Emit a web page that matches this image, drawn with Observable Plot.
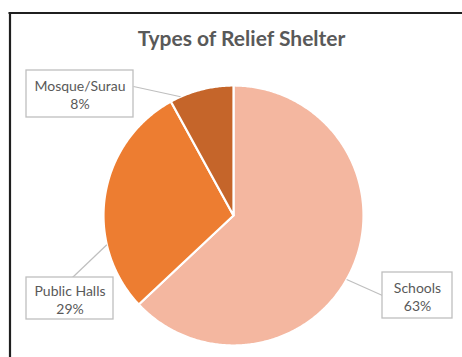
<!DOCTYPE html>
<html>
<head>
<meta charset="utf-8">
<script src="https://cdn.jsdelivr.net/npm/d3@7"></script>
<script src="https://cdn.jsdelivr.net/npm/@observablehq/plot@0.6"></script>
<style>
  html, body { margin: 0; padding: 0; background: #fff; }
  #chart svg { display: block; }
</style>
</head>
<body>
<div id="chart"></div>
<script>
// ---- data ----
const title = "Types of Relief Shelter";
const categories = ["Schools", "Public Halls", "Mosque/Surau"];
const values = [63, 29, 8];
const colors = ["#F4B7A0", "#ED7D31", "#C5652A"];

// ---- layout (pixels) ----
const W = 462, H = 357;
const cx = 233, cy = 215, R = 130;
const labelLayout = {
  "Schools":      {box: [382, 272, 452, 318], text: [417, 288], from: [382, 295], angle: 119.5},
  "Public Halls": {box: [26, 277, 113, 319], text: [69.5, 291], from: [72, 277], angle: 257},
  "Mosque/Surau": {box: [26, 70, 133, 117], text: [79.5, 86], from: [133, 86], angle: 336}
};

const total = d3.sum(values);
const table = categories.map((name, i) => ({name, value: values[i]}));
const arcs = d3.pie().sort(null).value(d => d.value)(table);

// polygon points per slice
const pts = [];
for (const a of arcs) {
  const n = Math.max(2, Math.ceil((a.endAngle - a.startAngle) / 0.01));
  pts.push({name: a.data.name, x: cx, y: cy});
  for (let k = 0; k <= n; k++) {
    const t = a.startAngle + (a.endAngle - a.startAngle) * k / n;
    pts.push({name: a.data.name, x: cx + R * Math.sin(t), y: cy - R * Math.cos(t)});
  }
  pts.push({name: a.data.name, x: cx, y: cy});
}

const labels = table.map(d => {
  const L = labelLayout[d.name];
  const ang = L.angle * Math.PI / 180;
  return {
    name: d.name,
    pct: Math.round(d.value / total * 100) + "%",
    x1: L.box[0], y1: L.box[1], x2: L.box[2], y2: L.box[3],
    tx: L.text[0], ty: L.text[1],
    fx: L.from[0], fy: L.from[1],
    ex: cx + R * Math.sin(ang), ey: cy - R * Math.cos(ang)
  };
});

const textColor = "#595959";
const font = "Lato, 'Open Sans', sans-serif";

const chart = Plot.plot({
  width: W, height: H, margin: 0,
  x: {domain: [0, W], range: [0, W], axis: null},
  y: {domain: [0, H], range: [0, H], axis: null},
  color: {domain: categories, range: colors},
  style: {fontFamily: font, background: "#fff"},
  marks: [
    // chart border (top and left visible)
    Plot.ruleY([12.5], {x1: 8.5, x2: W, stroke: "#1f1f1f", strokeWidth: 2.2}),
    Plot.ruleX([9.5], {y1: 12.5, y2: H, stroke: "#1f1f1f", strokeWidth: 2.2}),
    // title
    Plot.text([title], {x: 241, y: 38.5, text: d => d, fontSize: 21, fontWeight: "bold", fill: textColor, textAnchor: "middle"}),
    // slices
    Plot.line(pts, {x: "x", y: "y", z: "name", fill: "name", stroke: "white", strokeWidth: 2.2, strokeLinejoin: "round", curve: "linear"}),
    // leader lines
    Plot.link(labels, {x1: "fx", y1: "fy", x2: "ex", y2: "ey", stroke: "#BFBFBF", strokeWidth: 1.2}),
    // label boxes
    Plot.rect(labels, {x1: "x1", y1: "y1", x2: "x2", y2: "y2", fill: "white", stroke: "#BFBFBF", strokeWidth: 1.3}),
    Plot.text(labels, {x: "tx", y: "ty", text: "name", fontSize: 14, fill: textColor, textAnchor: "middle"}),
    Plot.text(labels, {x: "tx", y: "ty", dy: 18, text: "pct", fontSize: 14, fill: textColor, textAnchor: "middle"})
  ]
});
document.getElementById("chart").appendChild(chart);
</script>
</body>
</html>
